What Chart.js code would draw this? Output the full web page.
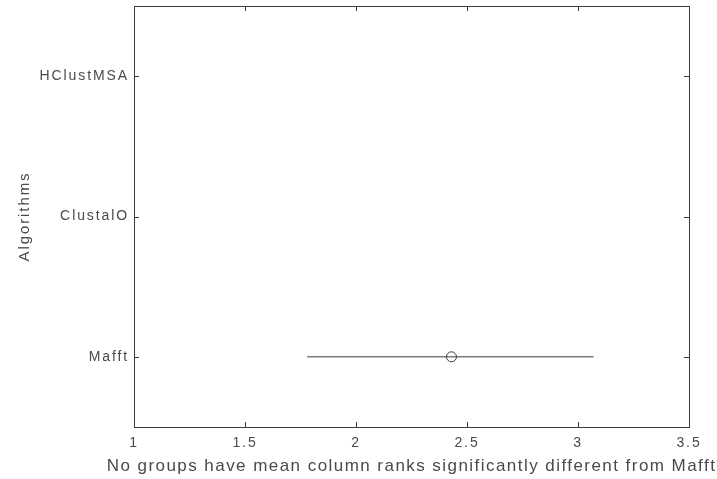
<!DOCTYPE html>
<html>
<head>
<meta charset="utf-8">
<script src="https://cdn.jsdelivr.net/npm/chart.js@4"></script>
<style>
  html, body { margin: 0; padding: 0; background: #fff; }
  #wrap { width: 717px; height: 479px; }
</style>
</head>
<body>
<div id="wrap"><canvas id="cmp" width="717" height="479"></canvas></div>
<script>
// group names, bottom to top (y = 1, 2, 3)
const groups = ['Mafft', 'ClustalO', 'HClustMSA'];
const groupPos = [1, 2, 3];
// comparison interval shown for the control group only
const meanRank = [2.43];
const lowerRank = [1.78];
const upperRank = [3.07];
const xTicks = [1, 1.5, 2, 2.5, 3, 3.5];
const xTitle = 'No groups have mean column ranks significantly different from Mafft';

const ink = '#3c3c3c';
const textInk = '#4a4a4a';
const fontFam = 'Liberation Sans, Arial, sans-serif';
const spacing = '1.9px';

// the old MATLAB export has wide, loosely spaced text
const wideText = {
    id: 'wideText',
    beforeInit(chart) { chart.ctx.letterSpacing = spacing; },
    beforeUpdate(chart) { chart.ctx.letterSpacing = spacing; },
    beforeDraw(chart) { chart.ctx.letterSpacing = spacing; }
};

// frame + inward ticks on all four sides, and the x title
// (Chart.js would squeeze the title to the plot width, this one runs wider)
const boxTicks = {
    id: 'boxTicks',
    afterDatasetsDraw(chart) {
        const { ctx, chartArea: a, scales } = chart;
        ctx.save();
        ctx.strokeStyle = ink;
        ctx.lineWidth = 1;
        ctx.strokeRect(a.left + 0.5, a.top + 0.5, a.right - a.left, a.bottom - a.top);
        ctx.beginPath();
        xTicks.forEach(v => {
            const px = Math.round(scales.x.getPixelForValue(v)) + 0.5;
            ctx.moveTo(px, a.bottom); ctx.lineTo(px, a.bottom - 5);
            ctx.moveTo(px, a.top); ctx.lineTo(px, a.top + 5);
        });
        groupPos.forEach(v => {
            const py = Math.round(scales.y.getPixelForValue(v)) + 0.5;
            ctx.moveTo(a.left, py); ctx.lineTo(a.left + 5, py);
            ctx.moveTo(a.right, py); ctx.lineTo(a.right - 5, py);
        });
        ctx.stroke();

        ctx.letterSpacing = '1.45px';
        ctx.fillStyle = textInk;
        ctx.font = '17px ' + fontFam;
        ctx.textAlign = 'center';
        ctx.textBaseline = 'middle';
        ctx.fillText(xTitle, (a.left + a.right) / 2, scales.x.bottom - 13);
        ctx.restore();
    }
};

const intervals = meanRank.map((m, i) => ({
    label: groups[i] + ' interval',
    type: 'line',
    data: [{ x: lowerRank[i], y: groupPos[i] }, { x: upperRank[i], y: groupPos[i] }],
    borderColor: ink,
    borderWidth: 1,
    pointRadius: 0
}));

new Chart(document.getElementById('cmp'), {
    type: 'scatter',
    data: {
        datasets: [
            ...intervals,
            {
                label: 'mean rank',
                data: meanRank.map((m, i) => ({ x: m, y: groupPos[i] })),
                pointStyle: 'circle',
                pointRadius: 5,
                borderColor: ink,
                borderWidth: 1,
                backgroundColor: '#fff'
            }
        ]
    },
    options: {
        responsive: false,
        animation: false,
        layout: { padding: { top: 6, right: 28, left: 0, bottom: 0 } },
        plugins: { legend: { display: false }, tooltip: { enabled: false } },
        scales: {
            x: {
                type: 'linear',
                min: 1, max: 3.5,
                afterBuildTicks: s => { s.ticks = xTicks.map(v => ({ value: v })); },
                afterFit: s => { s.height = 52; s.paddingLeft = 0; s.paddingRight = 0; },
                grid: { display: false, drawTicks: false },
                border: { display: false },
                ticks: {
                    color: textInk,
                    padding: 8,
                    font: { family: fontFam, size: 14 },
                    callback: v => String(v)
                },
                title: { display: false }
            },
            y: {
                type: 'linear',
                min: 0.5, max: 3.5,
                afterBuildTicks: s => { s.ticks = groupPos.map(v => ({ value: v })); },
                afterFit: s => { s.width = 134; s.paddingTop = 0; s.paddingBottom = 0; },
                grid: { display: false, drawTicks: false },
                border: { display: false },
                ticks: {
                    color: textInk,
                    padding: 5,
                    font: { family: fontFam, size: 14 },
                    callback: v => groups[groupPos.indexOf(v)]
                },
                title: {
                    display: true,
                    text: 'Algorithms',
                    color: textInk,
                    padding: { top: 16, bottom: 0 },
                    font: { family: fontFam, size: 15 }
                }
            }
        }
    },
    plugins: [wideText, boxTicks]
});
</script>
</body>
</html>
